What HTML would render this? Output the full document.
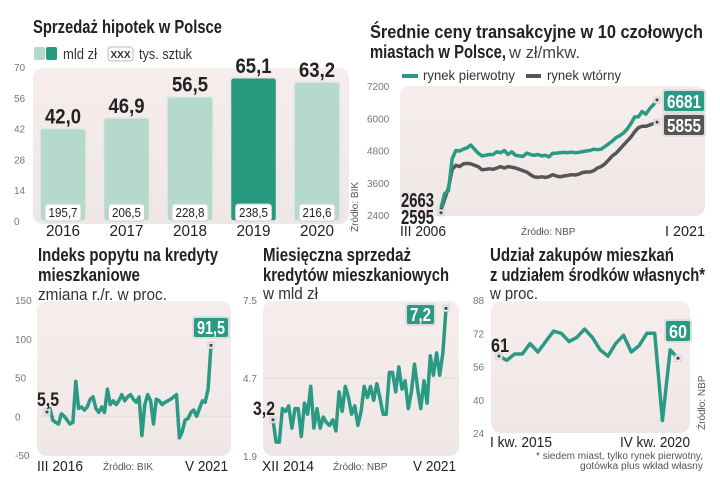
<!DOCTYPE html>
<html><head><meta charset="utf-8"><style>
html,body{margin:0;padding:0;background:#fff}
svg{display:block}
text{font-family:"Liberation Sans",sans-serif}
.t{font-weight:bold;font-size:18px;fill:#222}
.s{font-size:17px;fill:#333}
.tk{font-size:10px;fill:#777}
.xl{font-size:15px;fill:#222}
.src{font-size:10px;fill:#555}
</style></head><body>
<svg id="c" width="720" height="485" viewBox="0 0 720 485" xmlns="http://www.w3.org/2000/svg">
<defs>
<linearGradient id="pg" x1="0" y1="0" x2="0" y2="1"><stop offset="0" stop-color="#f7eded"/><stop offset="1" stop-color="#efe6e6"/></linearGradient>
</defs>
<g>
<text class="t" x="33" y="33" textLength="189" lengthAdjust="spacingAndGlyphs">Sprzedaż hipotek w Polsce</text>
<g>
<rect x="34" y="47" width="11" height="13" fill="#b5dacb" rx="2"/><rect x="46" y="47" width="11" height="13" fill="#279a80" rx="2"/>
<text class="s" x="63" y="59" style="font-size:15px" textLength="34" lengthAdjust="spacingAndGlyphs">mld zł</text>
<rect x="108" y="47" width="25" height="14" fill="#fff" stroke="#bbb" rx="3"/><text x="120.5" y="58" text-anchor="middle" style="font-size:10px;font-weight:bold;fill:#333">XXX</text>
<text class="s" x="139" y="59" style="font-size:15px" textLength="53" lengthAdjust="spacingAndGlyphs">tys. sztuk</text>
</g>
<rect x="33" y="68" width="316" height="156" rx="10" fill="url(#pg)"/>
<g id="c1"></g>
<text class="src" transform="translate(358,232) rotate(-90)">Źródło: BIK</text>
</g>
<g>
<text class="t" x="370" y="38" textLength="333" lengthAdjust="spacingAndGlyphs">Średnie ceny transakcyjne w 10 czołowych</text>
<text class="t" x="370" y="58" textLength="136" lengthAdjust="spacingAndGlyphs">miastach w Polsce,</text>
<text x="509" y="58" textLength="71" lengthAdjust="spacingAndGlyphs" style="font-size:17px;fill:#444">w zł/mkw.</text>
<g>
<line x1="402" y1="76" x2="418" y2="76" stroke="#2a9a84" stroke-width="4"/><text class="s" x="423" y="80" style="font-size:14px" textLength="92" lengthAdjust="spacingAndGlyphs">rynek pierwotny</text>
<line x1="526" y1="76" x2="541" y2="76" stroke="#555" stroke-width="4"/><text class="s" x="547" y="80" style="font-size:14px" textLength="74" lengthAdjust="spacingAndGlyphs">rynek wtórny</text>
</g>
<rect x="400" y="86" width="305" height="130" rx="10" fill="url(#pg)"/>
<g id="c2"></g>
<text class="xl" x="400" y="236" textLength="46" lengthAdjust="spacingAndGlyphs">III 2006</text>
<text class="src" x="521" y="235">Źródło: NBP</text>
<text class="xl" x="705" y="236" text-anchor="end" textLength="40" lengthAdjust="spacingAndGlyphs">I 2021</text>
</g>
<g>
<text class="t" x="38" y="261" textLength="180" lengthAdjust="spacingAndGlyphs">Indeks popytu na kredyty</text>
<text class="t" x="38" y="281" textLength="102" lengthAdjust="spacingAndGlyphs">mieszkaniowe</text>
<text class="s" x="38" y="300" textLength="129" lengthAdjust="spacingAndGlyphs">zmiana r./r. w proc.</text>
<rect x="37" y="301" width="194" height="155" rx="10" fill="url(#pg)"/>
<g id="c3"></g>
<text class="xl" x="37" y="471" textLength="46" lengthAdjust="spacingAndGlyphs">III 2016</text>
<text class="src" x="103" y="470">Źródło: BIK</text>
<text class="xl" x="228" y="471" text-anchor="end" textLength="43" lengthAdjust="spacingAndGlyphs">V 2021</text>
</g>
<g>
<text class="t" x="263" y="261" textLength="148" lengthAdjust="spacingAndGlyphs">Miesięczna sprzedaż</text>
<text class="t" x="263" y="281" textLength="186" lengthAdjust="spacingAndGlyphs">kredytów mieszkaniowych</text>
<text class="s" x="263" y="299" textLength="55" lengthAdjust="spacingAndGlyphs">w mld zł</text>
<rect x="263" y="301" width="196" height="155" rx="10" fill="url(#pg)"/>
<g id="c4"></g>
<text class="xl" x="262" y="471" textLength="52" lengthAdjust="spacingAndGlyphs">XII 2014</text>
<text class="src" x="333" y="470">Źródło: NBP</text>
<text class="xl" x="456" y="471" text-anchor="end" textLength="43" lengthAdjust="spacingAndGlyphs">V 2021</text>
</g>
<g>
<text class="t" x="490" y="261" textLength="184" lengthAdjust="spacingAndGlyphs">Udział zakupów mieszkań</text>
<text class="t" x="490" y="281" textLength="215" lengthAdjust="spacingAndGlyphs">z udziałem środków własnych*</text>
<text class="s" x="490" y="299" textLength="48" lengthAdjust="spacingAndGlyphs">w proc.</text>
<rect x="491" y="301" width="199" height="132" rx="10" fill="url(#pg)"/>
<g id="c5"></g>
<text class="xl" x="490" y="447" textLength="62" lengthAdjust="spacingAndGlyphs">I kw. 2015</text>
<text class="xl" x="690" y="447" text-anchor="end" textLength="70" lengthAdjust="spacingAndGlyphs">IV kw. 2020</text>
<text class="src" transform="translate(705,430) rotate(-90)">Źródło: NBP</text>
<text class="src" x="703" y="459" text-anchor="end" textLength="167" lengthAdjust="spacingAndGlyphs">* siedem miast, tylko rynek pierwotny,</text>
<text class="src" x="703" y="469" text-anchor="end" textLength="123" lengthAdjust="spacingAndGlyphs">gotówka plus wkład własny</text>
</g>
</svg>
<script>
const NS="http://www.w3.org/2000/svg";
const c1Years=["2016","2017","2018","2019","2020"];
const c1Values=[42.0,46.9,56.5,65.1,63.2];
const c1Units=["195,7","206,5","228,8","238,5","216,6"];
const c1Ticks=[0,14,28,42,56,70];
const c2Primary=[2663,3200,3300,4500,4800,4780,4850,4900,5000,4850,4700,4600,4620,4650,4650,4750,4720,4800,4650,4750,4620,4600,4580,4700,4650,4620,4650,4600,4620,4560,4700,4700,4720,4730,4720,4740,4720,4730,4760,4780,4800,4850,4830,4850,4950,5050,5150,5280,5350,5450,5600,5800,6050,6050,6250,6150,6350,6500,6681];
const c2Secondary=[2595,3000,3400,4100,4250,4200,4300,4320,4300,4250,4200,4080,4100,4120,4100,4150,4200,4150,4200,4180,4150,4100,4050,4000,3900,3820,3800,3820,3800,3830,3900,3850,3820,3850,3870,3900,3890,3920,3980,4000,4000,4050,4150,4200,4300,4450,4600,4700,4850,5000,5150,5300,5500,5650,5700,5700,5750,5800,5855];
const c2Ticks=[2400,3600,4800,6000,7200];
const c3Values=[5.5,10,-5,-8,-10,3,0,-5,-10,-8,45,10,12,8,12,22,25,10,5,12,5,35,15,20,15,20,28,20,25,28,22,18,25,-25,15,28,20,-10,22,20,15,18,20,22,25,28,-28,-20,-5,-3,5,8,0,10,20,18,35,91.5];
const c3Ticks=[-50,0,50,100,150];
const c4Values=[3.2,2.4,2.4,3.6,3.5,3.7,2.9,3.6,3.6,2.6,3.8,3.4,4.4,2.9,3.6,2.9,3.3,3.1,3.0,3.2,2.8,4.2,3.5,4.4,4.0,3.4,3.7,3.0,3.5,4.4,4.0,4.4,3.9,4.5,4.0,3.4,3.4,4.9,4.9,4.2,5.1,4.3,4.6,3.6,4.2,5.2,4.3,3.6,4.6,3.8,5.5,4.8,5.6,4.8,5.6,7.2];
const c4Ticks=["1.9","4.7","7.5"];
const c5Values=[61,59,62,62,67,63,68,73,72,68,70,74,70,64,61,67,71,63,66,72,72,30,64,60];
const c5Ticks=[24,40,56,72,88];

function el(p,tag,attrs,txt){const e=document.createElementNS(NS,tag);for(const k in attrs)e.setAttribute(k,attrs[k]);if(txt!=null)e.textContent=txt;p.appendChild(e);return e;}
function lin(d0,d1,r0,r1){return v=>r0+(v-d0)/(d1-d0)*(r1-r0);}
function path(vals,x,y){return vals.map((v,i)=>(i?"L":"M")+x(i).toFixed(1)+" "+y(v).toFixed(1)).join(" ");}
function marker(g,cx,cy){const m=el(g,"rect",{x:cx-3,y:cy-3,width:6,height:6,fill:"#fff",stroke:"#ccc"});el(g,"rect",{x:cx-1.5,y:cy-1.5,width:3,height:3,fill:"#444"});}
function badge(g,x,y,w,h,txt,fill,name){const b=el(g,"g",{});el(b,"rect",{x:x-1,y:y-1,width:w+2,height:h+2,rx:3,fill:"#ddd"});el(b,"rect",{x:x+1,y:y+1,width:w-2,height:h-2,rx:2,fill:fill});el(b,"text",{x:x+w/2,y:y+h-4,"text-anchor":"middle",textLength:w-8,lengthAdjust:"spacingAndGlyphs",style:"font-weight:bold;font-size:18px;fill:#fff"},txt);}

(function(){const g=document.getElementById("c1");const y=lin(0,70,221,67);
c1Ticks.forEach(t=>{const e=el(g,"text",{class:"tk",x:14,y:y(t)+4},String(t));});
c1Values.forEach((v,i)=>{const x=40+i*63.5,w=46;
const b=el(g,"rect",{x:x,y:y(v),width:w,height:221-y(v),rx:3,fill:i==3?"#279a80":"#b5dacb",stroke:"#e8e8e8","stroke-width":1.5});

const l=el(g,"text",{x:x+w/2,y:y(v)-5,"text-anchor":"middle",textLength:36,lengthAdjust:"spacingAndGlyphs",style:"font-weight:bold;font-size:21px;fill:#222"},v.toFixed(1).replace(".",","));

el(g,"rect",{x:x+5,y:204,width:36,height:17,rx:3,fill:"#fff",stroke:"#ccc"});
const u=el(g,"text",{x:x+w/2,y:217,"text-anchor":"middle",textLength:29,lengthAdjust:"spacingAndGlyphs",style:"font-size:13px;fill:#222"},c1Units[i]);

const yl=el(g,"text",{x:x+w/2,y:236,"text-anchor":"middle",textLength:34,lengthAdjust:"spacingAndGlyphs",style:"font-size:16px;fill:#222"},c1Years[i]);
});})();

(function(){const g=document.getElementById("c2");const y=lin(2400,7200,215,86);const n=c2Primary.length;const x=lin(0,n-1,441,657);
c2Ticks.forEach(t=>{const e=el(g,"text",{class:"tk",x:367,y:y(t)+4},String(t));});
const s=el(g,"path",{d:path(c2Secondary,x,y),fill:"none",stroke:"#555","stroke-width":3.5,"stroke-linejoin":"round"});

const p=el(g,"path",{d:path(c2Primary,x,y),fill:"none",stroke:"#2a9a84","stroke-width":3.5,"stroke-linejoin":"round"});

marker(g,x(0),y(c2Secondary[0])+3);marker(g,x(n-1),y(c2Primary[n-1]));marker(g,x(n-1),y(c2Secondary[n-1]));
const a=el(g,"text",{x:401,y:207,textLength:33,lengthAdjust:"spacingAndGlyphs",style:"font-weight:bold;font-size:20px;fill:#222"},String(c2Primary[0]));
const b=el(g,"text",{x:401,y:224,textLength:33,lengthAdjust:"spacingAndGlyphs",style:"font-weight:bold;font-size:20px;fill:#222"},String(c2Secondary[0]));
badge(g,663,90,42,22,String(c2Primary[n-1]),"#2a9a84",'primary-end-badge');
badge(g,663,114,42,22,String(c2Secondary[n-1]),"#555",'secondary-end-badge');})();

(function(){const g=document.getElementById("c3");const y=lin(-50,150,455,300);const n=c3Values.length;const x=lin(0,n-1,47,211);
c3Ticks.forEach(t=>{const e=el(g,"text",{class:"tk",x:15,y:y(t)+4},String(t));});
el(g,"line",{x1:37,x2:231,y1:y(0),y2:y(0),stroke:"#e4dada"});
const p=el(g,"path",{d:path(c3Values,x,y),fill:"none",stroke:"#2a9a84","stroke-width":3.5,"stroke-linejoin":"round"});

marker(g,x(0),y(c3Values[0]));marker(g,x(n-1),y(c3Values[n-1]));
const a=el(g,"text",{x:37,y:406,textLength:22,lengthAdjust:"spacingAndGlyphs",style:"font-weight:bold;font-size:19px;fill:#222"},"5,5");
badge(g,193,317,36,21,"91,5","#2a9a84",'end-value-badge');})();

(function(){const g=document.getElementById("c4");const y=lin(1.9,7.5,456,300);const n=c4Values.length;const x=lin(0,n-1,273,446);
c4Ticks.forEach(t=>{const e=el(g,"text",{class:"tk",x:243,y:y(+t)+4},t);});
el(g,"line",{x1:263,x2:459,y1:y(4.7),y2:y(4.7),stroke:"#e4dada"});
const p=el(g,"path",{d:path(c4Values,x,y),fill:"none",stroke:"#2a9a84","stroke-width":3.5,"stroke-linejoin":"round"});

marker(g,x(0),y(c4Values[0]));marker(g,x(n-1),y(c4Values[n-1]));
const a=el(g,"text",{x:253,y:415,textLength:22,lengthAdjust:"spacingAndGlyphs",style:"font-weight:bold;font-size:19px;fill:#222"},"3,2");
badge(g,406,304,29,21,"7,2","#2a9a84",'end-value-badge');})();

(function(){const g=document.getElementById("c5");const y=lin(24,88,433,300);const n=c5Values.length;const x=lin(0,n-1,499,678);
c5Ticks.forEach(t=>{const e=el(g,"text",{class:"tk",x:473,y:y(t)+4},String(t));});
const p=el(g,"path",{d:path(c5Values,x,y),fill:"none",stroke:"#2a9a84","stroke-width":3.5,"stroke-linejoin":"round"});

marker(g,x(0),y(c5Values[0]));marker(g,x(n-1),y(c5Values[n-1]));
const a=el(g,"text",{x:491,y:352,textLength:18,lengthAdjust:"spacingAndGlyphs",style:"font-weight:bold;font-size:19px;fill:#222"},"61");
badge(g,665,320,26,22,"60","#2a9a84",'end-value-badge');})();
</script>
</body></html>
